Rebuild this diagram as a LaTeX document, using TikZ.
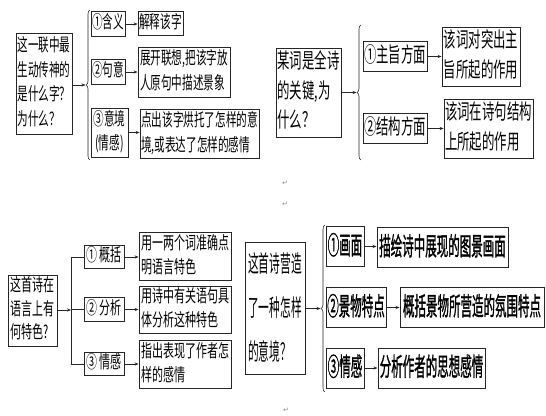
\documentclass[tikz,border=0pt]{standalone}
\usepackage{fontspec}
\usepackage{graphicx}
\newfontfamily\cjk{Noto Sans CJK SC}
\newfontfamily\cjkfb[FakeBold=1.6]{Noto Sans CJK SC}
\newfontfamily\dejavu{DejaVu Sans}
\usetikzlibrary{arrows.meta,decorations.pathreplacing,calc}
\newcommand\tb[3]{\scalebox{1}[#1]{\begin{tabular}{@{}#2@{}}#3\end{tabular}}}

\begin{document}
\begin{tikzpicture}[x=1pt,y=-1pt,
 box/.style={draw=black!85,line width=0.8pt,inner sep=0pt},
 bx/.style 2 args={box,minimum width=#1pt,minimum height=#2pt},
 arr/.style={-{Stealth[length=4pt,width=3.2pt]},line width=0.7pt,draw=black!85},
 ln/.style={line width=0.7pt,draw=black!85},
 brc/.style={decorate,decoration={brace,amplitude=4pt},line width=0.6pt,draw=black!85},
 ftl/.style={font=\cjk\fontsize{10.6}{14.6}\selectfont},
 ftr/.style={font=\cjk\fontsize{12.4}{17.3}\selectfont},
 fbl/.style={font=\cjk\fontsize{11}{14.6}\selectfont},
 fbm/.style={font=\cjk\fontsize{10.7}{20}\selectfont},
 fbr/.style={font=\cjkfb\fontsize{11.5}{18}\selectfont},
 pm/.style={font=\dejavu\fontsize{7}{8}\selectfont,text=black!45,inner sep=0pt}
]
\useasboundingbox (0,0) rectangle (546,415);

% ---------- top left ----------
\node[bx={56}{101},ftl] (TL0) at (44,83.5) {\tb{1.68}{l}{这一联中最\\生动传神的\\是什么字？\\为什么？}};
\node[bx={34}{20},ftl] (TL1) at (108,24) {\tb{1.68}{l}{①含义}};
\node[bx={45}{21},ftl] (TL1b) at (160.5,23.5) {\tb{1.68}{l}{解释该字}};
\node[bx={34}{20},ftl] (TL2) at (108,72) {\tb{1.68}{l}{②句意}};
\node[bx={92}{50},ftl] (TL2b) at (184,72) {\tb{1.68}{l}{展开联想,把该字放\\人原句中描述景象}};
\node[bx={37}{49},ftl] (TL3) at (109.5,132.5) {\tb{1.68}{c}{③意境\\(情感)}};
\node[bx={119}{48},ftl] (TL3b) at (199.5,134) {\tb{1.68}{l}{点出该字烘托了怎样的意\\境,或表达了怎样的感情}};
\draw[brc] (90,160) -- (90,10);
\coordinate (tlb) at (85.5,85);
\draw[arr] (TL0.east|-tlb) -- (tlb);
\draw[arr] (TL1.east) -- (TL1.east-|TL1b.west);
\draw[arr] (TL2.east) -- (TL2.east-|TL2b.west);
\draw[arr] (TL3.east) -- (TL3.east-|TL3b.west);

% ---------- top right ----------
\node[bx={65}{89},ftr] (TR0) at (308.5,92.5) {\tb{1.7}{l}{某词是全诗\\的关键,为\\什么？}};
\node[bx={64}{29},ftr] (TR1) at (395,56.5) {\tb{1.7}{l}{①主旨方面}};
\node[bx={78}{59},ftr] (TR1b) at (481,56.5) {\tb{1.7}{l}{该词对突出主\\旨所起的作用}};
\node[bx={64}{29},ftr] (TR2) at (395,128.5) {\tb{1.7}{l}{②结构方面}};
\node[bx={89}{57},ftr] (TR2b) at (488.5,128.5) {\tb{1.7}{l}{该词在诗句结构\\上所起的作用}};
\draw[brc] (361,160) -- (361,25);
\coordinate (trb) at (356.5,92.5);
\draw[arr] (TR0.east|-trb) -- (trb);
\draw[arr] (TR1.east) -- (TR1.east-|TR1b.west);
\draw[arr] (TR2.east) -- (TR2.east-|TR2b.west);

% ---------- bottom left ----------
\node[bx={49}{71},fbl] (BL0) at (32.5,310.5) {\tb{1.62}{l}{这首诗在\\语言上有\\何特色?}};
\node[bx={40}{20},fbl] (BL1) at (104,257) {\tb{1.62}{l}{① 概括}};
\node[bx={92}{47},fbl] (BL1b) at (185,256.5) {\tb{1.62}{l}{用一两个词准确点\\明语言特色}};
\node[bx={40}{21},fbl] (BL2) at (104,309.5) {\tb{1.62}{l}{② 分析}};
\node[bx={92}{46},fbl] (BL2b) at (185,310) {\tb{1.62}{l}{用诗中有关语句具\\体分析这种特色}};
\node[bx={40}{20},fbl] (BL3) at (104,364) {\tb{1.62}{l}{③ 情感}};
\node[bx={92}{45},fbl] (BL3b) at (185,364.5) {\tb{1.62}{l}{指出表现了作者怎\\样的感情}};
\coordinate (trunk) at (71,310);
\draw[arr] (BL0.east|-trunk) -- (trunk);
\draw[ln] (trunk|-BL1.west) -- (trunk|-BL3.west);
\draw[ln] (trunk|-BL1.west) -- (BL1.west);
\draw[ln] (trunk|-BL2.west) -- (BL2.west);
\draw[ln] (trunk|-BL3.west) -- (BL3.west);
\draw[arr] (BL1.east) -- (BL1.east-|BL1b.west);
\draw[arr] (BL2.east) -- (BL2.east-|BL2b.west);
\draw[arr] (BL3.east) -- (BL3.east-|BL3b.west);

% ---------- bottom right ----------
\node[bx={60}{126},fbm] (BR0) at (275,308) {\tb{2.2}{l}{这首诗营造\\了一种怎样\\的意境？}};
\node[bx={38}{39},fbr,line width=1pt] (BR1) at (345,246.5) {\tb{2.2}{l}{①画面}};
\node[bx={131}{39},fbr,line width=1pt] (BR1b) at (442.5,247.5) {\tb{2.2}{l}{描绘诗中展现的图景画面}};
\node[bx={60}{39},fbr,line width=1pt] (BR2) at (356,307.5) {\tb{2.2}{l}{②景物特点}};
\node[bx={144}{39},fbr,line width=1pt] (BR2b) at (472,307.5) {\tb{2.2}{l}{概括景物所营造的氛围特点}};
\node[bx={38}{40},fbr,line width=1pt] (BR3) at (345,368) {\tb{2.2}{l}{③情感}};
\node[bx={107}{40},fbr,line width=1pt] (BR3b) at (431.5,368) {\tb{2.2}{l}{分析作者的思想感情}};
\draw[brc] (325,392) -- (325,225);
\coordinate (brb) at (320.5,308.5);
\draw[arr] (BR0.east|-brb) -- (brb);
\draw[arr] (BR1.east) -- (BR1.east-|BR1b.west);
\draw[arr] (BR2.east) -- (BR2.east-|BR2b.west);
\draw[arr] (BR3.east) -- (BR3.east-|BR3b.west);

% paragraph marks
\node[pm] (pm1) at (285,183) {↵};
\node[pm] (pm2) at (285,204) {↵};
\node[pm] (pm3) at (286,410) {↵};
\end{tikzpicture}
\end{document}
